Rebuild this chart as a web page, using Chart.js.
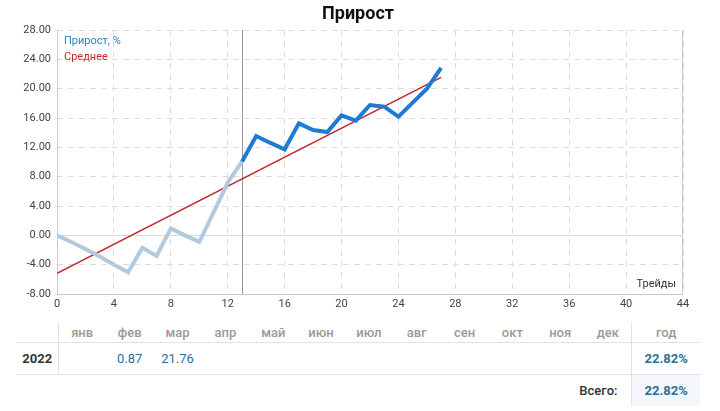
<!DOCTYPE html>
<html>
<head>
<meta charset="utf-8">
<script src="https://cdn.jsdelivr.net/npm/chart.js@4/dist/chart.umd.min.js"></script>
<style>
  html, body { margin: 0; padding: 0; background: #fff; font-family: Roboto, "Noto Sans", sans-serif; }
  #wrap { position: relative; width: 720px; height: 411px; overflow: hidden; }
  #chartBox { position: absolute; left: 0; top: 0; width: 720px; height: 320px; }
  table { position: absolute; left: 17px; top: 322px; border-collapse: collapse; font-size: 13px; table-layout: fixed; }
  td, th { padding: 0; text-align: center; }
  th { color: #9a9a9a; font-weight: 500; height: 20px; border-bottom: 1px solid #e2e2e2; }
  tr.r1 td { height: 31px; border-bottom: 1px solid #e2e2e2; color: #2d6f96; }
  tr.r2 td { height: 31px; }
  .yr { font-weight: bold; color: #333 !important; text-align: center; border-right: 1px solid #e2e2e2; }
  th.yr { border-right: 1px solid #e2e2e2; }
  .tot { border-left: 1px solid #e2e2e2; font-weight: bold; color: #2d6f96; }
  .tot2 { border-left: 1px solid #e2e2e2; font-weight: bold; color: #2d6f96; background: #f3f6fb; }
  .lbl { text-align: right; padding-right: 14px; font-weight: 500; color: #333; }
</style>
</head>
<body>
<div id="wrap">
  <div id="chartBox"><canvas id="c" width="720" height="320"></canvas></div>
  <table id="tbl"></table>
</div>
<script>
// ---- data ----
const titleText = "Прирост";
const legendLabels = ["Прирост, %", "Среднее"];
const xAxisLabel = "Трейды";
const lightX = [0,1,2,3,4,5,6,7,8,9,10,11,12,13];
const lightY = [0,-0.9,-1.87,-2.9,-4.0,-5.05,-1.7,-2.8,0.95,0.0,-0.9,3.1,7.2,10.04];
const darkX = [13,14,15,16,17,18,19,20,21,22,23,24,25,26,27];
const darkY = [10.04,13.54,12.6,11.73,15.27,14.36,14.09,16.36,15.63,17.77,17.54,16.17,18.1,20.0,22.82];
const avgX = [0,27];
const avgY = [-5.18,21.55];
const markerX = 13;
const months = ["янв","фев","мар","апр","май","июн","июл","авг","сен","окт","ноя","дек"];
const yearLabel = "2022";
const monthValues = ["", "0.87", "21.76", "", "", "", "", "", "", "", "", ""];
const yearTotal = "22.82%";
const totalLabel = "Всего:";
const grandTotal = "22.82%";

const pts = (xs, ys) => xs.map((x, i) => ({x: x, y: ys[i]}));

// ---- table ----
(function(){
  const t = document.getElementById('tbl');
  let cg = '<colgroup><col style="width:41px">';
  for (let i = 0; i < 12; i++) cg += '<col style="width:47.83px">';
  cg += '<col style="width:68px"></colgroup>';
  let h = '<tr><th class="yr"></th>' + months.map(m => '<th>' + m + '</th>').join('') + '<th class="tot" style="font-weight:500;color:#9a9a9a">год</th></tr>';
  let r1 = '<tr class="r1"><td class="yr">' + yearLabel + '</td>' + monthValues.map(v => '<td>' + v + '</td>').join('') + '<td class="tot">' + yearTotal + '</td></tr>';
  let r2 = '<tr class="r2"><td colspan="13" class="lbl">' + totalLabel + '</td><td class="tot2">' + grandTotal + '</td></tr>';
  t.innerHTML = cg + h + r1 + r2;
})();

// ---- chart ----
const extras = {
  id: 'extras',
  beforeDatasetsDraw(chart) {
    const {ctx, chartArea: a, scales: {x, y}} = chart;
    ctx.save();
    // zero line solid
    const y0 = Math.round(y.getPixelForValue(0)) + 0.5;
    ctx.strokeStyle = '#dcdcdc';
    ctx.lineWidth = 1;
    ctx.beginPath(); ctx.moveTo(a.left, y0); ctx.lineTo(a.right, y0); ctx.stroke();
    // border box
    ctx.strokeStyle = '#c8c8c8';
    ctx.beginPath();
    ctx.moveTo(a.left + 0.5, a.top); ctx.lineTo(a.left + 0.5, a.bottom + 0.5);
    ctx.lineTo(a.right - 0.5, a.bottom + 0.5); ctx.lineTo(a.right - 0.5, a.top);
    ctx.stroke();
    // marker vertical line
    const xm = Math.round(x.getPixelForValue(markerX)) + 0.5;
    ctx.strokeStyle = '#9a9a9a';
    ctx.beginPath(); ctx.moveTo(xm, a.top); ctx.lineTo(xm, a.bottom); ctx.stroke();
    ctx.restore();
  },
  afterDraw(chart) {
    const {ctx, chartArea: a} = chart;
    ctx.save();
    ctx.textBaseline = 'middle';
    ctx.font = 'bold 18px Roboto, sans-serif';
    ctx.fillStyle = '#111';
    ctx.textAlign = 'center';
    ctx.fillText(titleText, 358, 14);
    ctx.font = '11px Roboto, sans-serif';
    ctx.textAlign = 'left';
    ctx.fillStyle = '#2a7fc0';
    ctx.fillText(legendLabels[0], a.left + 7, a.top + 11);
    ctx.fillStyle = '#c62828';
    ctx.fillText(legendLabels[1], a.left + 7, a.top + 27);
    ctx.fillStyle = '#333';
    ctx.textAlign = 'right';
    ctx.fillText(xAxisLabel, a.right - 7, a.bottom - 10);
    ctx.restore();
  }
};

new Chart(document.getElementById('c'), {
  type: 'line',
  data: {
    datasets: [
      { data: pts(lightX, lightY), borderColor: '#b3cade', borderWidth: 4, pointRadius: 0, tension: 0, borderJoinStyle: 'miter' },
      { data: pts(darkX, darkY), borderColor: '#1f7ad4', borderWidth: 4, pointRadius: 0, tension: 0 },
      { data: pts(avgX, avgY), borderColor: '#c0262b', borderWidth: 1.5, pointRadius: 0, tension: 0 }
    ]
  },
  options: {
    responsive: false,
    animation: false,
    layout: { padding: { top: 30, right: 37, left: 0, bottom: 0 } },
    plugins: { legend: { display: false }, title: { display: false }, tooltip: { enabled: false } },
    scales: {
      x: {
        type: 'linear', min: 0, max: 44,
        ticks: { stepSize: 4, color: '#444', font: { family: 'Roboto', size: 11 }, padding: 4, maxRotation: 0 },
        grid: { color: '#dddddd', drawTicks: false },
        border: { display: false, dash: [6, 5] },
        afterFit(s) { s.height = 26; }
      },
      y: {
        min: -8, max: 28,
        ticks: { stepSize: 4, color: '#444', font: { family: 'Roboto', size: 11 }, padding: 6, callback: v => v.toFixed(2) },
        grid: { color: '#dddddd', drawTicks: false },
        border: { display: false, dash: [6, 5] },
        afterFit(s) { s.width = 57; }
      }
    }
  },
  plugins: [extras]
});
</script>
</body>
</html>
